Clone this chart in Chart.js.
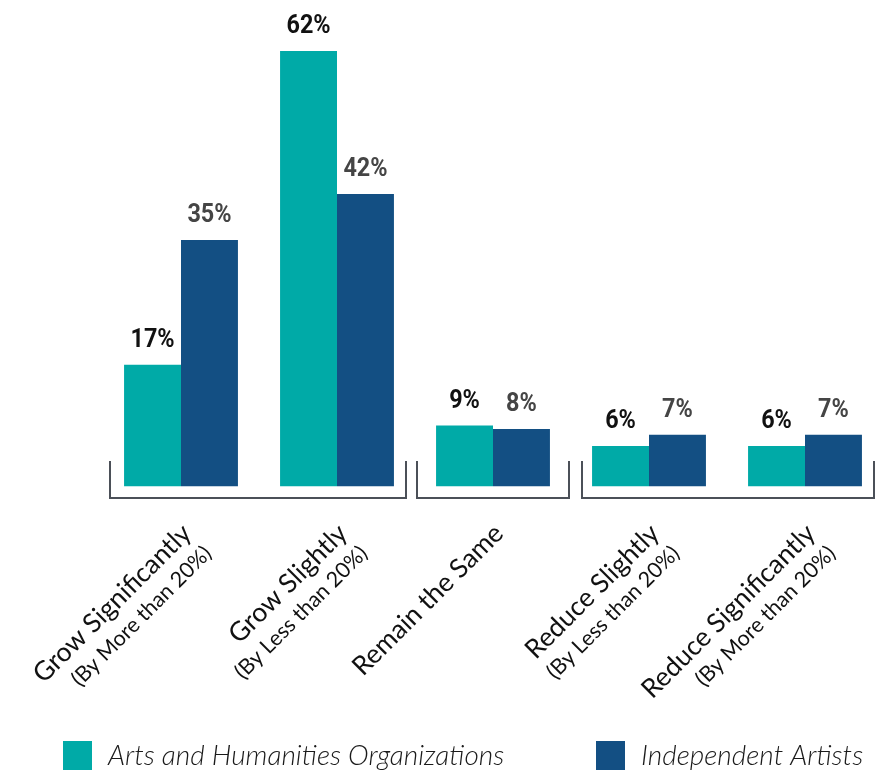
<!DOCTYPE html>
<html>
<head>
<meta charset="utf-8">
<script src="https://cdn.jsdelivr.net/npm/chart.js@4.4.0/dist/chart.umd.min.js"></script>
<style>
  html, body { margin: 0; padding: 0; background: #fff; }
</style>
</head>
<body>
<canvas id="myChart" width="883" height="772"></canvas>
<script>
// DATA
var categories = ['Grow Significantly', 'Grow Slightly', 'Remain the Same', 'Reduce Slightly', 'Reduce Significantly'];
var subtitles = ['(By More than 20%)', '(By Less than 20%)', '', '(By Less than 20%)', '(By More than 20%)'];
var orgValues = [17.4, 62.2, 8.7, 5.8, 5.8];
var artistValues = [35.2, 41.8, 8.2, 7.4, 7.4];
var seriesNames = ['Arts and Humanities Organizations', 'Independent Artists'];
// brackets under the groups, in category units
var brackets = [[-0.455, 1.44], [1.51, 2.49], [2.57, 4.44]];

var teal = '#00aaa7';
var blue = '#134f83';
var numFont = 'Roboto, "DejaVu Sans", sans-serif';
var textFont = 'Lato, "Noto Sans", sans-serif';

// value labels above the bars (condensed look: squeeze horizontally)
var valueLabels = {
  id: 'valueLabels',
  afterDatasetsDraw: function (chart) {
    var ctx = chart.ctx;
    ctx.save();
    ctx.font = 'bold 26px ' + numFont;
    ctx.textAlign = 'center';
    ctx.textBaseline = 'alphabetic';
    chart.data.datasets.forEach(function (ds, i) {
      var meta = chart.getDatasetMeta(i);
      ctx.fillStyle = i === 0 ? '#111111' : '#454545';
      meta.data.forEach(function (bar, j) {
        ctx.save();
        ctx.translate(bar.x, bar.y - 18);
        ctx.scale(0.9, 1);
        ctx.fillText(Math.round(ds.data[j]) + '%', 0, 0);
        ctx.restore();
      });
    });
    ctx.restore();
  }
};

// brackets + rotated category labels + legend
var decorations = {
  id: 'decorations',
  afterDraw: function (chart) {
    var ctx = chart.ctx;
    var x = chart.scales.x;
    ctx.save();

    ctx.strokeStyle = '#4b5058';
    ctx.lineWidth = 2;
    brackets.forEach(function (b) {
      var x1 = Math.round(x.getPixelForValue(b[0]));
      var x2 = Math.round(x.getPixelForValue(b[1]));
      ctx.beginPath();
      ctx.moveTo(x1, 461);
      ctx.lineTo(x1, 498);
      ctx.lineTo(x2, 498);
      ctx.lineTo(x2, 461);
      ctx.stroke();
    });

    ctx.fillStyle = '#111111';
    ctx.textAlign = 'right';
    ctx.textBaseline = 'alphabetic';
    categories.forEach(function (c, i) {
      var cx = x.getPixelForValue(i);
      ctx.save();
      ctx.translate(cx + 12, 535);
      ctx.rotate(-Math.PI / 4);
      ctx.font = '26.5px ' + textFont;
      ctx.fillText(c, 0, 0);
      if (subtitles[i]) {
        ctx.font = '21.5px ' + textFont;
        ctx.fillText(subtitles[i], 0, 28);
      }
      ctx.restore();
    });

    // legend
    var legendX = [63, 596];
    var colors = [teal, blue];
    ctx.textAlign = 'left';
    ctx.textBaseline = 'middle';
    ctx.font = 'italic 300 28px ' + textFont;
    seriesNames.forEach(function (n, i) {
      ctx.fillStyle = colors[i];
      ctx.fillRect(legendX[i], 741, 29, 29);
      ctx.fillStyle = '#1a1a1a';
      ctx.fillText(n, legendX[i] + 45, 756);
    });

    ctx.restore();
  }
};

var ctx = document.getElementById('myChart').getContext('2d');
var myChart = new Chart(ctx, {
  type: 'bar',
  data: {
    labels: categories,
    datasets: [{
      label: seriesNames[0],
      data: orgValues,
      backgroundColor: teal
    }, {
      label: seriesNames[1],
      data: artistValues,
      backgroundColor: blue
    }]
  },
  options: {
    responsive: false,
    animation: false,
    layout: { padding: { top: 24.5, right: 0 } },
    categoryPercentage: 0.73,
    barPercentage: 1,
    plugins: {
      legend: { display: false },
      tooltip: { enabled: false }
    },
    scales: {
      x: {
        ticks: { display: false },
        grid: { display: false },
        border: { display: false },
        afterFit: function (s) { s.height = 285.5; }
      },
      y: {
        min: 0,
        max: 66,
        ticks: { display: false },
        grid: { display: false },
        border: { display: false },
        afterFit: function (s) { s.width = 103; }
      }
    }
  },
  plugins: [valueLabels, decorations]
});
</script>
</body>
</html>
